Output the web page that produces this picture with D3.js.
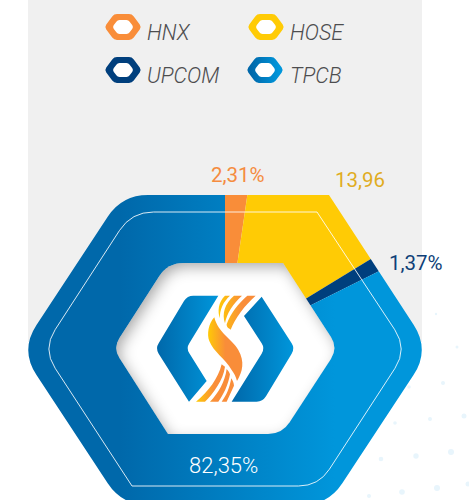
<!DOCTYPE html>
<html>
<head>
<meta charset="UTF-8">
<title>Ty trong</title>
<script src="https://cdn.jsdelivr.net/npm/d3@7/dist/d3.min.js"></script>
<style>
html, body { margin: 0; padding: 0; background: #fff; overflow: hidden; }
svg { display: block; }
text { font-family: "Roboto", sans-serif; font-weight: 300; }
</style>
</head>
<body>
<div id="chart"></div>
<script>
var categories = ['HNX', 'HOSE', 'UPCOM', 'TPCB'];
var values = [2.31, 13.96, 1.37, 82.35];
var valueLabels = ['2,31%', '13,96', '1,37%', '82,35%'];
var colors = ['#f98d39', '#ffcb05', '#003f7d', 'url(#blueGrad)'];
var labelColors = ['#f58c3f', '#e0ac1f', '#0f3f78', '#ffffff'];

var width = 469, height = 500;
var cx = 225, cy = 348;

var svg = d3.select('#chart').append('svg')
    .attr('width', width)
    .attr('height', height);
var defs = svg.append('defs');

function linGrad(id, x1, x2, stops, units) {
    var g = defs.append('linearGradient').attr('id', id)
        .attr('gradientUnits', units || 'userSpaceOnUse')
        .attr('x1', x1).attr('x2', x2).attr('y1', 0).attr('y2', 0);
    stops.forEach(function(s) {
        g.append('stop').attr('offset', s[0]).attr('stop-color', s[1]);
    });
}
var blue = [[0, '#0068aa'], [1, '#0096db']];
linGrad('blueGrad', 120 - cx, 335 - cx, blue); // used inside the translated pie group
linGrad('legendBlue', 0.1, 0.9, blue, 'objectBoundingBox');
linGrad('logoL', 140, 325, blue);
linGrad('logoR', 365, 550, blue);
linGrad('flame', 293, 400, [[0, '#ffcb05'], [0.5, '#f98d39'], [1, '#f98d39']]);
linGrad('flameTop', 325, 420, [[0, '#ffcb05'], [0.75, '#f98d39'], [1, '#f98d39']]);
linGrad('flameLow', 258, 350, [[0, '#ffcb05'], [0.6, '#f98d39'], [1, '#f98d39']]);

// soft shadow inside the white centre
var f = defs.append('filter').attr('id', 'innerShadow')
    .attr('x', '-10%').attr('y', '-10%').attr('width', '120%').attr('height', '120%');
f.append('feGaussianBlur').attr('in', 'SourceAlpha').attr('stdDeviation', 7).attr('result', 'b');
f.append('feOffset').attr('in', 'b').attr('dx', 4).attr('dy', 5).attr('result', 'o');
f.append('feComposite').attr('in', 'SourceAlpha').attr('in2', 'o').attr('operator', 'out').attr('result', 'inv');
f.append('feFlood').attr('flood-color', '#000').attr('flood-opacity', 0.6);
f.append('feComposite').attr('in2', 'inv').attr('operator', 'in').attr('result', 's');
var fm = f.append('feMerge');
fm.append('feMergeNode').attr('in', 'SourceGraphic');
fm.append('feMergeNode').attr('in', 's');

// hexagon with a separate corner radius per vertex
function hexPath(pts) {
    var n = pts.length, d = '';
    pts.forEach(function(p, i) {
        var a = pts[(i + n - 1) % n], b = pts[(i + 1) % n], r = p[2] || 0;
        var la = Math.hypot(a[0] - p[0], a[1] - p[1]), lb = Math.hypot(b[0] - p[0], b[1] - p[1]);
        var x1 = p[0] + (a[0] - p[0]) * r / la, y1 = p[1] + (a[1] - p[1]) * r / la;
        var x2 = p[0] + (b[0] - p[0]) * r / lb, y2 = p[1] + (b[1] - p[1]) * r / lb;
        d += (i ? 'L' : 'M') + x1 + ',' + y1 + 'Q' + p[0] + ',' + p[1] + ' ' + x2 + ',' + y2;
    });
    return d + 'Z';
}

// background
svg.append('rect').attr('x', 28).attr('y', 0).attr('width', 394).attr('height', 342).attr('fill', '#f0f0f0');

var bgDots = [[436,314,1.2],[457,347,1.5],[443,383,2],[409,387,1.8],[430,419,2],[464,416,2.5],[395,423,1.8],[451,452,3],[416,456,2.7],[381,459,2.3],[402,492,2.8],[437,488,3],[468,484,2.5],[369,496,2]];
svg.selectAll('circle.dot').data(bgDots).enter().append('circle')
    .attr('class', 'dot')
    .attr('cx', function(d) { return d[0]; })
    .attr('cy', function(d) { return d[1]; })
    .attr('r', function(d) { return d[2]; })
    .attr('fill', '#e8f5fc');

// legend
var legendX = d3.scaleOrdinal().domain(categories).range([123, 266, 123, 265]);
var legendY = d3.scaleOrdinal().domain(categories).range([27, 27, 70, 70]);
var legend = svg.selectAll('g.legend').data(categories).enter().append('g')
    .attr('class', 'legend')
    .attr('transform', function(d) { return 'translate(' + legendX(d) + ',' + legendY(d) + ')'; });
legend.append('path')
    .attr('d', hexPath([[-18.5,0,3],[-9,-13,3],[9,-13,3],[18.5,0,3],[9,13,3],[-9,13,3]]))
    .attr('fill', function(d, i) { return i === 3 ? 'url(#legendBlue)' : colors[i]; });
legend.append('path')
    .attr('d', hexPath([[-10.5,0,2],[-5.5,-7,2],[5.5,-7,2],[10.5,0,2],[5.5,7,2],[-5.5,7,2]]))
    .attr('fill', '#fff');
legend.append('text')
    .attr('x', function(d, i) { return i === 3 ? 25 : 24; })
    .attr('y', 13)
    .attr('font-size', 21.5)
    .attr('font-style', 'italic')
    .attr('fill', '#4d4d4f')
    .text(function(d) { return d; });

// pie clipped to the big hexagon
var outerHex = [[20,350,30],[122,195,26],[329,195,0],[430,350,30],[328,505,26],[122,505,26]];
defs.append('clipPath').attr('id', 'hexClip').append('path').attr('d', hexPath(outerHex));

var pie = d3.pie().sort(null).value(function(d) { return d; });
var arc = d3.arc().innerRadius(0).outerRadius(420);

svg.append('g').attr('clip-path', 'url(#hexClip)')
    .append('g')
    .attr('transform', 'translate(' + cx + ',' + cy + ')')
    .selectAll('path').data(pie(values)).enter().append('path')
    .attr('d', arc)
    .attr('fill', function(d, i) { return colors[i]; });

// thin white outline inside
svg.append('path')
    .attr('d', hexPath([[42.6,349,23],[131.5,212,22],[317,212,0],[407.5,349,23],[318.5,486,20],[132,486,0]]))
    .attr('fill', 'none')
    .attr('stroke', '#fff')
    .attr('stroke-opacity', 0.85)
    .attr('stroke-width', 1);

// white centre
svg.append('path')
    .attr('d', hexPath([[113,348,12],[167.7,263,16],[283,263,0],[338,348,13],[282,434,14],[168,434,0]]))
    .attr('fill', '#fff')
    .attr('filter', 'url(#innerShadow)');

// logo, traced at 3x
var logo = svg.append('g').attr('transform', 'translate(110,255) scale(0.3333)');
var logoShapes = [
    ['url(#logoL)', 'M325,122L250,122Q232,122 222,138L146,265Q136,280 146,296L237,440L290,378L238,295Q228,280 238,265Z'],
    ['url(#logoR)', 'M455,125L402,183L455,265Q465,280 455,296L365,440L440,440Q458,440 468,424L545,296Q555,280 545,265Z'],
    ['url(#flame)', 'M313,187C295,205 290,240 298,258C310,290 345,310 365,345C372,355 378,365 381,378C398,350 405,320 385,285C365,250 325,235 313,187Z'],
    ['url(#flameTop)', 'M345,122L360,122C340,140 328,165 330,190C322,170 325,140 345,122Z'],
    ['url(#flameTop)', 'M372,122L396,122C370,145 350,175 345,205C335,175 345,145 372,122Z'],
    ['url(#flameTop)', 'M412,122L437,122C405,150 375,190 362,224C352,218 350,215 350,208C362,175 385,145 412,122Z'],
    ['url(#flameLow)', 'M258,440C295,410 325,370 335,328L345,335C340,375 310,415 285,440Z'],
    ['url(#flameLow)', 'M300,440C325,415 345,380 350,342C356,348 358,352 360,358C355,390 340,420 325,440Z'],
    ['url(#flameLow)', 'M335,440C350,420 358,400 364,370C368,376 372,385 372,392L350,440Z']
];
logo.selectAll('path').data(logoShapes).enter().append('path')
    .attr('d', function(d) { return d[1]; })
    .attr('fill', function(d) { return d[0]; });

// value labels
var labelX = d3.scaleOrdinal().domain(categories).range([211, 335, 389, 189]);
var labelY = d3.scaleOrdinal().domain(categories).range([182, 187, 270, 473]);
svg.selectAll('text.value').data(categories).enter().append('text')
    .attr('class', 'value')
    .attr('x', function(d) { return labelX(d); })
    .attr('y', function(d) { return labelY(d); })
    .attr('font-size', function(d, i) { return i === 3 ? 22 : 20.5; })
    .style('font-weight', function(d, i) { return i === 3 ? 300 : 400; })
    .attr('fill', function(d, i) { return labelColors[i]; })
    .text(function(d, i) { return valueLabels[i]; });
</script>
</body>
</html>
